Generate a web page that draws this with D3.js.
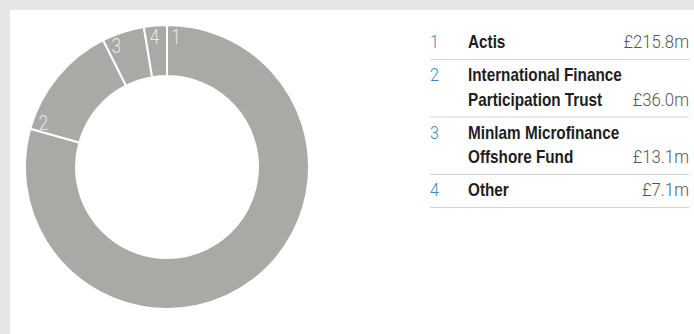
<!DOCTYPE html>
<html>
<head>
<meta charset="utf-8">
<script src="https://cdn.jsdelivr.net/npm/d3@7"></script>
<style>
  html, body { margin: 0; padding: 0; background: #e5e6e5; }
  svg { display: block; }
</style>
</head>
<body>
<div id="chart"></div>
<script>
// investment managers, in chart order
const ids = ["1", "2", "3", "4"];
const names = [
    ["Actis"],
    ["International Finance", "Participation Trust"],
    ["Minlam Microfinance", "Offshore Fund"],
    ["Other"]
];
const values = [215.8, 36.0, 13.1, 7.1];
const valueLabels = ["£215.8m", "£36.0m", "£13.1m", "£7.1m"];

const width = 694, height = 334;
const svg = d3.select("#chart").append("svg")
    .attr("width", width)
    .attr("height", height);

// white panel on the grey page
svg.append("rect")
    .attr("x", 10).attr("y", 10)
    .attr("width", width - 10).attr("height", height - 10)
    .attr("fill", "#ffffff");

// the fonts here are not condensed, so squeeze text horizontally
function squeezed(parent, x, y, sx) {
    return parent.append("text")
        .attr("transform", "translate(" + x + "," + y + ") scale(" + sx + ",1)");
}

// donut
const cx = 167, cy = 167, outerR = 142, innerR = 91;
const data = ids.map((id, i) => ({ id: id, value: values[i] }));
const pie = d3.pie().sort(null).value(d => d.value);
const arc = d3.arc().innerRadius(innerR).outerRadius(outerR);

const donut = svg.append("g")
    .attr("transform", "translate(" + cx + "," + cy + ")");

const slices = pie(data);
donut.selectAll("path")
    .data(slices)
    .enter()
    .append("path")
    .attr("d", arc)
    .attr("fill", "#a9aaa5")
    .attr("stroke", "#ffffff")
    .attr("stroke-width", 2);

// slice numbers sit just clockwise of each slice's start edge
const labelR = 131, labelOffset = 9 / labelR;
slices.forEach(d => {
    const a = d.startAngle + labelOffset;
    squeezed(donut, labelR * Math.sin(a), -labelR * Math.cos(a), 0.85)
        .attr("dy", "0.36em")
        .attr("text-anchor", "middle")
        .attr("font-family", "Roboto, 'Liberation Sans', sans-serif")
        .attr("font-weight", 300)
        .attr("font-size", 20)
        .attr("fill", "#e8e8e5")
        .text(d.data.id);
});

// legend table
const legendX = 430, nameX = 468, valueX = 689;
const lineH = 24.5, firstBase = 22, bottomPad = 11;

const legend = svg.append("g");
let rowTop = 26;
ids.forEach((id, i) => {
    const row = legend.append("g");
    const lines = names[i];
    squeezed(row, legendX, rowTop + firstBase, 0.9)
        .attr("font-family", "Roboto, 'Liberation Sans', sans-serif")
        .attr("font-weight", 300)
        .attr("font-size", 18)
        .attr("fill", "#3a8db5")
        .text(id);
    lines.forEach((line, j) => {
        squeezed(row, nameX, rowTop + firstBase + j * lineH, 0.85)
            .attr("font-family", "'Liberation Sans', Arial, sans-serif")
            .attr("font-weight", "bold")
            .attr("font-size", 18)
            .attr("fill", "#1e1e1e")
            .text(line);
    });
    const lastBase = rowTop + firstBase + (lines.length - 1) * lineH;
    squeezed(row, valueX, lastBase, 0.93)
        .attr("text-anchor", "end")
        .attr("font-family", "Roboto, 'Liberation Sans', sans-serif")
        .attr("font-weight", 300)
        .attr("font-size", 18)
        .attr("fill", "#555555")
        .text(valueLabels[i]);
    const bottom = lastBase + bottomPad;
    row.append("line")
        .attr("x1", legendX).attr("x2", valueX)
        .attr("y1", bottom + 0.5).attr("y2", bottom + 0.5)
        .attr("stroke", "#d2d2d2")
        .attr("stroke-width", 1);
    rowTop = bottom;
});
</script>
</body>
</html>
